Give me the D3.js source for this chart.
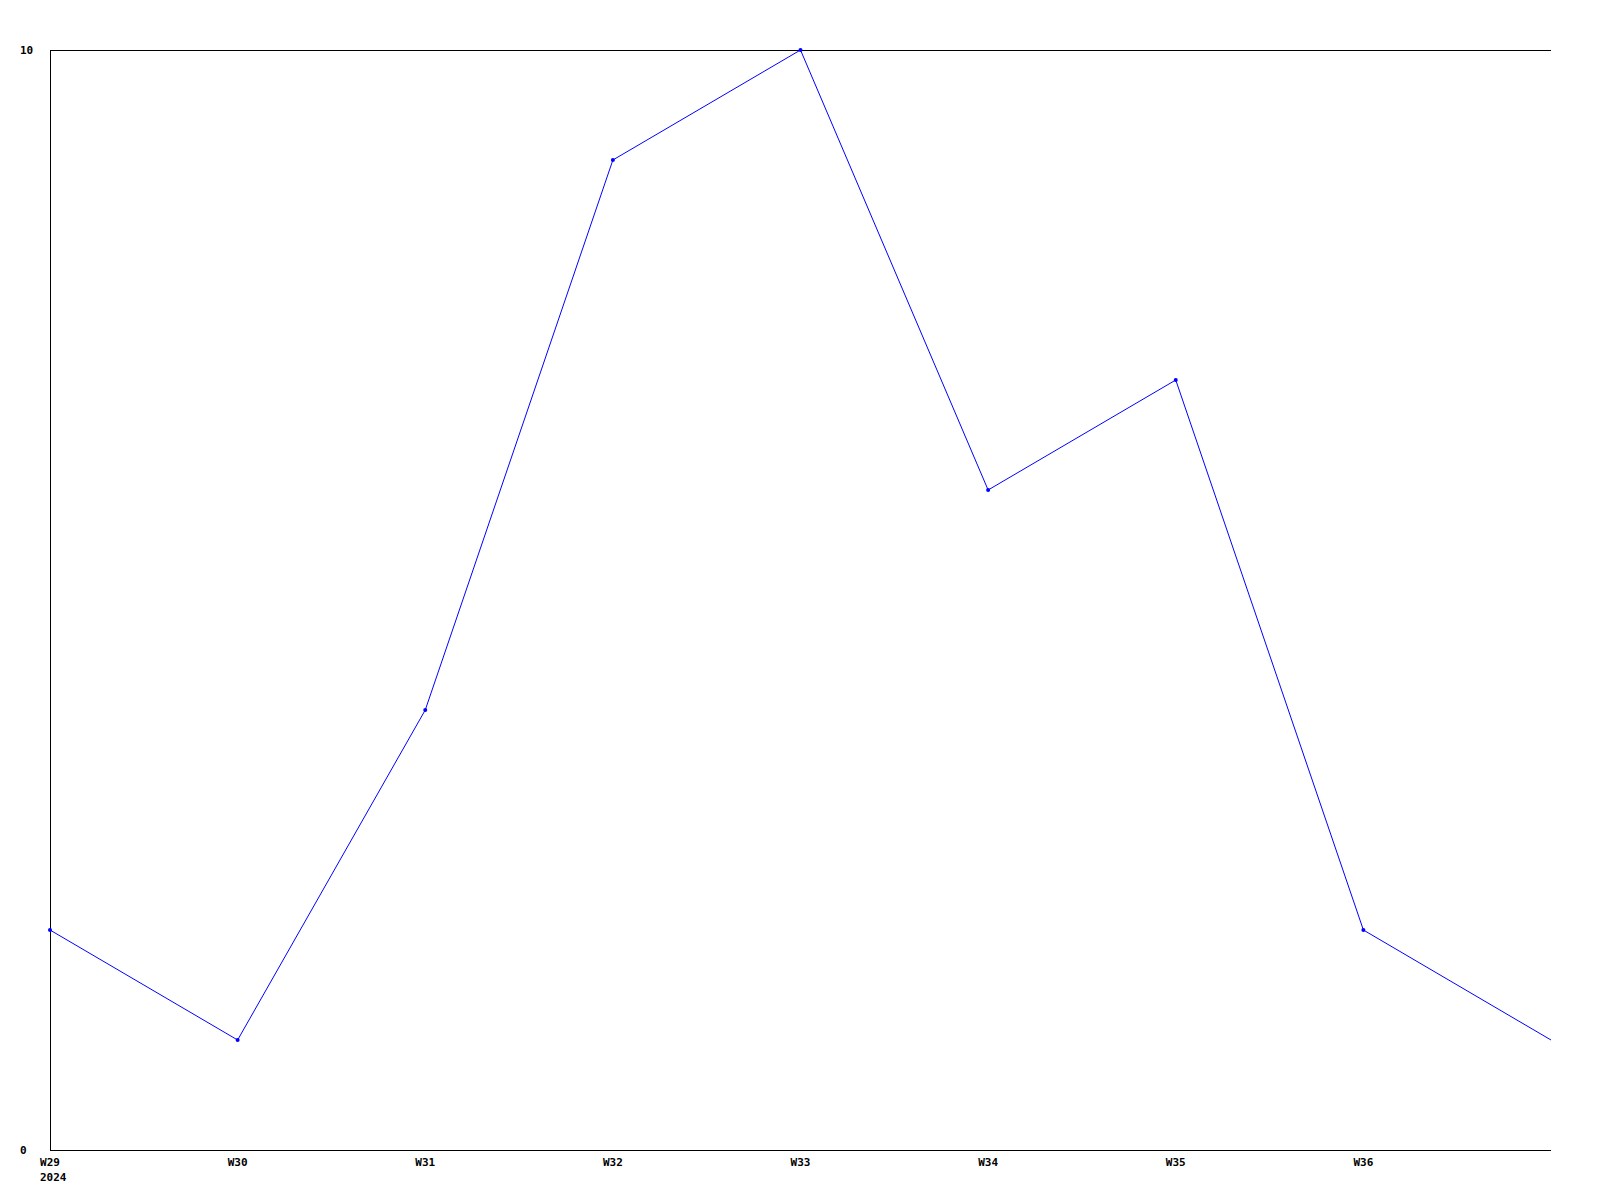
<!DOCTYPE html>
<html><head><meta charset="utf-8">
<script src="https://cdn.jsdelivr.net/npm/d3@7"></script>
<style>body{margin:0;background:#fff}svg{display:block}text{font-family:"DejaVu Sans Mono",monospace;font-weight:bold;font-size:11px;fill:#000}</style>
</head><body>
<script>
const weeks = ["W29","W30","W31","W32","W33","W34","W35","W36","W37"];
const values = [2,1,4,9,10,6,7,2,1];
const tickLabels = ["W29","W30","W31","W32","W33","W34","W35","W36"];
const yearLabel = "2024";
const yTicks = [0,10];

const W=1600,H=1200, L=50, R=1551, T=50, B=1150;
const svg = d3.select("body").append("svg").attr("width",W).attr("height",H);
const x = d3.scalePoint().domain(weeks).range([L,R]);
const y = d3.scaleLinear().domain([0,10]).range([B,T]);

// axes lines
svg.append("line").attr("x1",L+0.5).attr("x2",L+0.5).attr("y1",T).attr("y2",B).attr("stroke","#000");
svg.append("line").attr("x1",L).attr("x2",R).attr("y1",T+0.5).attr("y2",T+0.5).attr("stroke","#000");
svg.append("line").attr("x1",L).attr("x2",R).attr("y1",B+0.5).attr("y2",B+0.5).attr("stroke","#000");

// y labels
svg.selectAll(".yl").data(yTicks).enter().append("text")
  .attr("x",20).attr("y",d=>y(d)).attr("dy","0.35em").text(d=>d);

// x labels
svg.selectAll(".xl").data(tickLabels).enter().append("text")
  .attr("x",d=>x(d)).attr("y",B+16).attr("text-anchor","middle").text(d=>d);
svg.append("text").attr("x",x(weeks[0])-10).attr("y",B+31).text(yearLabel);

const data = weeks.map((w,i)=>({w,v:values[i]}));
svg.append("path").datum(data).attr("fill","none").attr("stroke","#0000ff").attr("stroke-width",1)
  .attr("d",d3.line().x(d=>x(d.w)).y(d=>y(d.v)));
svg.selectAll("circle").data(data.slice(0,-1)).enter().append("circle")
  .attr("cx",d=>x(d.w)).attr("cy",d=>y(d.v)).attr("r",2).attr("fill","#0000ff");
</script>
</body></html>
